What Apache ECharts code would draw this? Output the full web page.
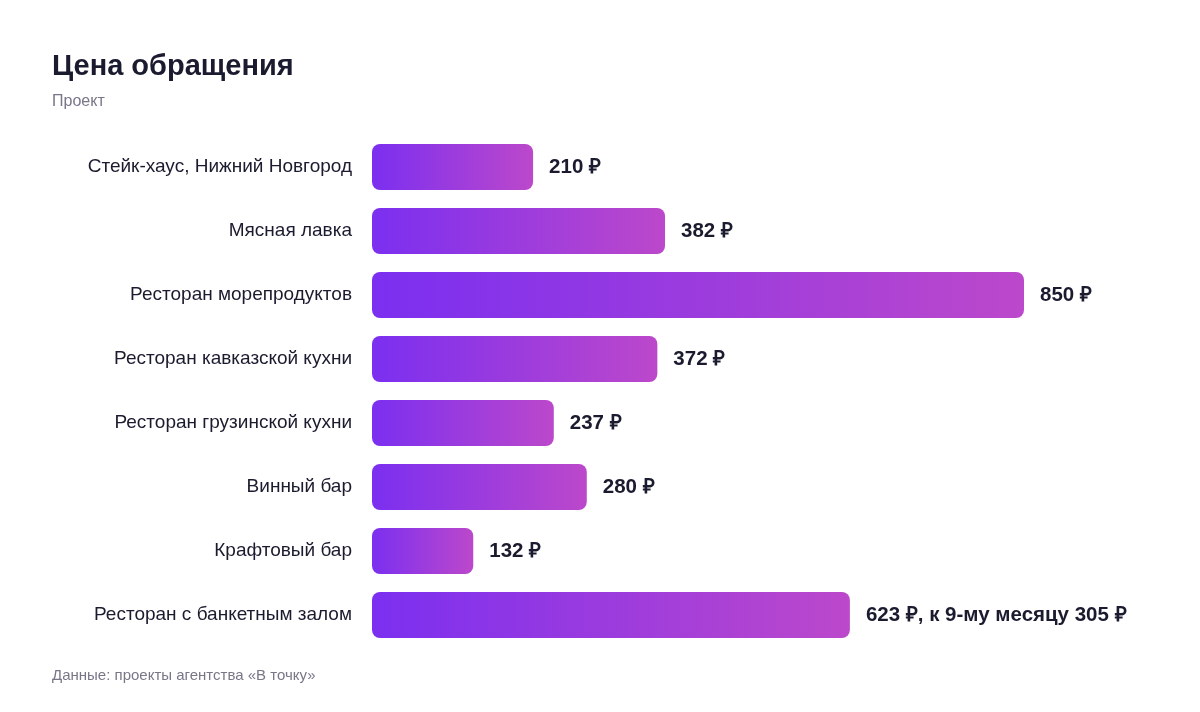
<!DOCTYPE html>
<html>
<head>
    <meta charset="utf-8">
    <title>Цена обращения</title>
    <script src="https://cdn.jsdelivr.net/npm/echarts@6.0.0/dist/echarts.min.js"></script>
    <style>
        html, body { margin: 0; padding: 0; background: #fff; }
        #chart { width: 1200px; height: 712px; }
    </style>
</head>
<body>
    <div id="chart"></div>
    <script>
        // данные
        var categories = [
            'Стейк-хаус, Нижний Новгород',
            'Мясная лавка',
            'Ресторан морепродуктов',
            'Ресторан кавказской кухни',
            'Ресторан грузинской кухни',
            'Винный бар',
            'Крафтовый бар',
            'Ресторан с банкетным залом'
        ];
        var values = [210, 382, 850, 372, 237, 280, 132, 623];
        var valueLabels = [
            '210 ₽', '382 ₽', '850 ₽', '372 ₽', '237 ₽', '280 ₽', '132 ₽',
            '623 ₽, к 9-му месяцу 305 ₽'
        ];

        var font = '"Liberation Sans", Arial, sans-serif';
        var chart = echarts.init(document.getElementById('chart'));

        chart.setOption({
            animation: false,
            title: [
                {
                    text: 'Цена обращения',
                    left: 52, top: 52, padding: 0,
                    textStyle: { fontFamily: font, fontSize: 29, fontWeight: 'bold', color: '#1b1b2f' }
                },
                {
                    text: 'Проект',
                    left: 52, top: 94, padding: 0,
                    textStyle: { fontFamily: font, fontSize: 16, fontWeight: 'normal', color: '#777788' }
                },
                {
                    text: 'Данные: проекты агентства «В точку»',
                    left: 52, top: 668, padding: 0,
                    textStyle: { fontFamily: font, fontSize: 15, fontWeight: 'normal', color: '#777788' }
                }
            ],
            grid: { left: 372, right: 176, top: 135, bottom: 65 },
            xAxis: {
                type: 'value',
                min: 0, max: 850,
                show: false
            },
            yAxis: {
                type: 'category',
                data: categories,
                inverse: true,
                axisLine: { show: false },
                axisTick: { show: false },
                axisLabel: {
                    margin: 20,
                    padding: [4, 0, 0, 0],
                    fontFamily: font,
                    fontSize: 19,
                    color: '#1b1b2f'
                }
            },
            series: [{
                type: 'bar',
                data: values,
                barWidth: 46,
                itemStyle: {
                    borderRadius: 8,
                    color: new echarts.graphic.LinearGradient(0, 0, 1, 0, [
                        { offset: 0, color: '#7b2ff0' },
                        { offset: 1, color: '#bc48cb' }
                    ])
                },
                label: {
                    show: true,
                    position: 'right',
                    distance: 16,
                    padding: [4, 0, 0, 0],
                    fontFamily: font,
                    fontSize: 20.5,
                    fontWeight: 'bold',
                    color: '#1b1b2f',
                    formatter: function (p) { return valueLabels[p.dataIndex]; }
                }
            }]
        });
    </script>
</body>
</html>
